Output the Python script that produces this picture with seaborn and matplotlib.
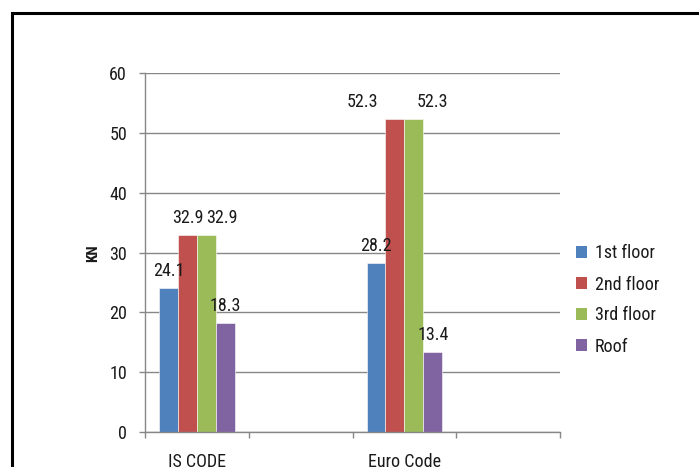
import matplotlib
matplotlib.use("Agg")
import matplotlib.pyplot as plt
from matplotlib import font_manager as fm
import seaborn as sns
import pandas as pd
from matplotlib.patches import Patch, Rectangle

# Data
codes = ["IS CODE", "Euro Code"]
slots = ["IS CODE", " ", "Euro Code", "  "]
floors = ["1st floor", "2nd floor", "3rd floor", "Roof"]
is_code = [24.1, 32.9, 32.9, 18.3]
euro_code = [28.2, 52.3, 52.3, 13.4]
yticks = [0, 10, 20, 30, 40, 50, 60]
colors = ["#4F81BD", "#C0504D", "#9BBB59", "#8064A2"]

# horizontal nudges (pixels) for value labels that would otherwise collide
label_dx = {
    "IS CODE": [0, 0, 16, 0],
    "Euro Code": [0, -32, 19, 0],
}

df = pd.DataFrame({
    "code": [codes[0]] * len(floors) + [codes[1]] * len(floors),
    "floor": floors * 2,
    "kn": is_code + euro_code,
})

sns.set_theme(style="white")

# prefer a narrow sans face if one is available
narrow = None
for f in fm.fontManager.ttflist:
    n = f.name
    if ("Narrow" in n or "Condensed" in n or f.stretch in ("condensed", "semi-condensed")) \
            and "Mono" not in n and "Serif" not in n and f.weight in (400, "normal", "regular"):
        narrow = f
        if "Liberation" in n or "Arial" in n:
            break
if narrow is not None:
    plt.rcParams["font.family"] = [narrow.name, "Liberation Sans", "DejaVu Sans"]
    plt.rcParams["font.stretch"] = narrow.stretch
    base = 13
else:
    plt.rcParams["font.family"] = ["Liberation Sans", "DejaVu Sans"]
    base = 11.5
plt.rcParams["text.color"] = "#1a1a1a"

W, H = 699, 467
fig = plt.figure(figsize=(W / 100, H / 100), dpi=100)
ax = fig.add_axes([145 / W, 35 / H, 415 / W, 359 / H])

sns.barplot(
    data=df, x="code", y="kn", hue="floor",
    order=slots, hue_order=floors, palette=colors,
    width=0.73, gap=0, saturation=1, legend=False,
    edgecolor="white", linewidth=0.4, ax=ax,
)

grid_c = "#878787"
ax.set_ylim(0, 60)
ax.set_yticks(yticks)
ax.set_yticklabels([str(t) for t in yticks])
ax.yaxis.grid(True, color=grid_c, linewidth=1.0)
ax.set_axisbelow(True)

ax.set_xlim(-0.5, len(slots) - 0.5)
ax.set_xticks([i - 0.5 for i in range(len(slots) + 1)])
ax.set_xticklabels([])
ax.set_xticks(range(len(slots)), minor=True)
ax.set_xticklabels(slots, minor=True)
ax.tick_params(axis="x", which="major", direction="out", length=4.5, width=1, color=grid_c, bottom=True)
ax.tick_params(axis="x", which="minor", length=0, pad=15, labelsize=base, labelcolor="#1a1a1a", bottom=True)
ax.tick_params(axis="y", direction="out", length=4, width=1, color=grid_c, pad=9, labelsize=base,
               labelcolor="#1a1a1a", left=True)

ax.set_xlabel("")
ax.set_ylabel("")
for side in ("top", "right"):
    ax.spines[side].set_visible(False)
for side in ("left", "bottom"):
    ax.spines[side].set_color(grid_c)
    ax.spines[side].set_linewidth(1.0)

# value labels above each bar
for fi, cont in enumerate(ax.containers):
    for bar in cont:
        h = bar.get_height()
        if h != h or h == 0:
            continue
        xc = bar.get_x() + bar.get_width() / 2
        code = slots[int(round(xc))]
        dx = label_dx.get(code, [0] * len(floors))[fi]
        ax.annotate(f"{h:.1f}", (xc, h), xytext=(dx, 17), textcoords="offset pixels",
                    ha="center", va="center", fontsize=base, color="#1a1a1a")

fig.text(93 / W, 1 - 253 / H, "KN", rotation=90, fontsize=11, fontweight="bold",
         ha="center", va="center", color="#1a1a1a")

handles = [Patch(facecolor=c, edgecolor="none", label=f) for c, f in zip(colors, floors)]
ax.legend(handles=handles, loc="center left", bbox_to_anchor=(576 / W, 1 - 300 / H),
          bbox_transform=fig.transFigure, frameon=False, fontsize=base,
          handlelength=0.6, handleheight=0.6, handletextpad=0.45,
          labelspacing=0.72 * 13 / base, borderpad=0, borderaxespad=0)

# outer frame
fig.add_artist(Rectangle((11.5 / W, -0.2), 2, 1.2 - 12.5 / H, transform=fig.transFigure,
                         fill=False, edgecolor="black", linewidth=2.2, clip_on=False))

fig.savefig("out.png", dpi=100)
